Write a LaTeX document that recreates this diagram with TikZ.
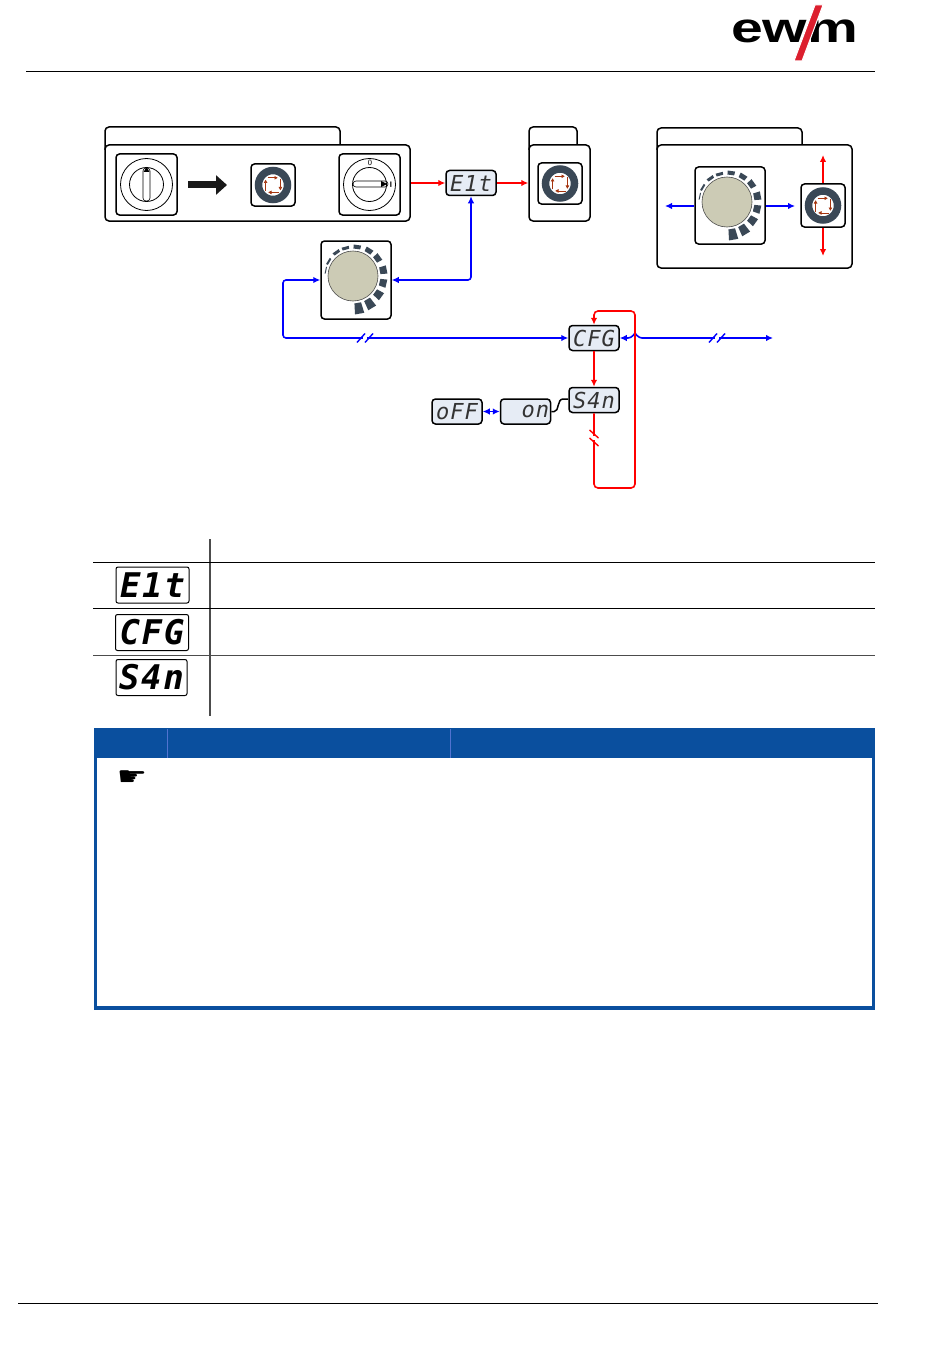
\documentclass[tikz,border=0pt]{standalone}
\usepackage{fontspec}
\usetikzlibrary{shapes,arrows,arrows.meta,positioning,calc}
\newfontfamily\segfont{DejaVu Sans Mono}
\newfontfamily\symfont{DejaVu Sans}
\newfontfamily\logofont{Liberation Sans}
\definecolor{ringgrey}{HTML}{3A4856}
\definecolor{knobgrey}{HTML}{CCCBB5}
\definecolor{rustred}{HTML}{A5350F}
\definecolor{dispblue}{HTML}{E6ECF5}
\definecolor{notblue}{HTML}{0A4F9E}
\definecolor{logored}{HTML}{DC1F2E}

\begin{document}
\begin{tikzpicture}[x = 1pt, y = 1pt, > = {Latex[length = 7pt, width = 6.5pt]}, inner sep = 0pt]
    \tikzset{
      panel/.style = {draw, rounded corners = 4pt, line width = 1.5pt, fill = white},
      keybox/.style = {panel, rounded corners = 3.5pt},
      display/.style = {keybox, fill = dispblue, minimum width = 50pt, minimum height = 25pt, text = black!80,
        font = \segfont\itshape\fontsize{22}{22}\selectfont\addfontfeature{LetterSpace = 5}},
      tabledisplay/.style = {draw, rounded corners = 2pt, line width = 1pt, minimum width = 73pt,
        minimum height = 36pt, font = \segfont\bfseries\itshape\fontsize{34}{34}\selectfont\addfontfeature{LetterSpace = 5}},
      blueline/.style = {draw = blue, line width = 1.6pt, rounded corners = 3pt},
      redline/.style = {draw = red, line width = 1.6pt, rounded corners = 4pt},
      tableline/.style = {line width = 1.1pt, draw = black!70},
      ringarrow/.style = {->, > = {Latex[length = 3.5pt, width = 4pt]}, rustred, line width = .7pt},
      dialmark/.pic = {
        \foreach \a/\t in {-80/11, -59/10, -36/8, -13/7, 11/7, 36/6, 58/5, 82/4, 105/3, 125/3, 149/2, 168/1}
          \fill[ringgrey] ({\a-7}:27.5) -- ({\a-7}:{27.5+\t}) -- ({\a+7}:{27.5+\t}) -- ({\a+7}:27.5) -- cycle;
        \draw[fill = knobgrey, line width = .6pt, draw = black!70] (0, 0) circle [radius = 25];
      },
      ringmark/.pic = {
        \draw[ringgrey, line width = 7.5pt] (0, 0) circle [radius = 14.5];
        \draw[ringarrow] (-5.5, 7.2) -- (5, 7.2);
        \draw[ringarrow] (7.4, 6) -- (7.4, -5.5);
        \draw[ringarrow] (5.5, -7.4) -- (-5, -7.4);
        \draw[ringarrow] (-7.4, -6) -- (-7.4, 5.5);
      },
      cutmark/.pic = {
        \fill[white] (-2, -5) rectangle (2, 5);
        \draw[line width = 1.4pt] (-8, -4.5) -- (0, 4.5);
        \draw[line width = 1.4pt] (0, -4.5) -- (8, 4.5);
      },
    }
    \useasboundingbox (0, 0) rectangle (950, -1359);
    \fill[white] (0, 0) rectangle (950, -1359);

    % page head and foot
    \node[font = \logofont\bfseries\fontsize{42}{42}\selectfont, xscale = 1.36, anchor = center] (logo) at (794.5, -31) {ewm};
    \fill[logored, draw = white, line width = 1pt] (815, -5) -- (823, -5) -- (802, -61) -- (794, -61) -- cycle;
    \draw[line width = .8pt] (26, -71) -- (875, -71);
    \draw[line width = .8pt] (18, -1303) -- (878, -1303);

    % first panel
    \draw[panel] (105, -150) |- (340, -127) -- (340, -150);
    \node[panel, minimum width = 305pt, minimum height = 76pt] (mainpanel) at (257.5, -183) {};
    \node[keybox, minimum width = 61pt, minimum height = 61pt] (switchoff) at (146.5, -184.5) {};
    \draw[line width = .8pt] (switchoff.center) circle [radius = 26] (switchoff.center) circle [radius = 17];
    \draw[line width = .6pt, rounded corners = 3pt] (143, -168) rectangle (150, -201);
    \fill (146.5, -167) -- (149.5, -172) -- (143.5, -172) -- cycle;
    \draw[line width = 7pt, -{Triangle[length = 11pt, width = 19pt]}, black!90] (188, -185) -- (227, -185);
    \node[keybox, minimum width = 44pt, minimum height = 42pt] (setkeya) at (273, -185) {};
    \pic at (setkeya.center) {ringmark};
    \node[keybox, minimum width = 61pt, minimum height = 61pt] (switchon) at (369.5, -184.5) {};
    \draw[line width = .8pt] (switchon.center) circle [radius = 26] (switchon.center) circle [radius = 17];
    \draw[line width = .6pt, rounded corners = 3pt] (353, -181) rectangle (388, -187);
    \fill (387, -184) -- (381, -181) -- (381, -187) -- cycle;
    \node[font = \sffamily\fontsize{8}{8}\selectfont] (zeromark) at (370, -162.5) {0};
    \node[font = \sffamily\bfseries\fontsize{8}{8}\selectfont] (onemark) at (391, -184.5) {I};

    % second panel
    \draw[panel] (529, -150) |- (577, -127) -- (577, -150);
    \node[panel, minimum width = 61pt, minimum height = 76pt] (savepanel) at (559.5, -183) {};
    \node[keybox, minimum width = 44pt, minimum height = 41pt] (setkeyb) at (560, -183.5) {};
    \pic at (setkeyb.center) {ringmark};

    % third panel
    \draw[panel] (657, -150) |- (802, -128) -- (802, -150);
    \node[panel, minimum width = 195pt, minimum height = 123pt] (helppanel) at (754.5, -206.5) {};
    \node[keybox, minimum width = 70pt, minimum height = 77pt] (dialb) at (730, -205.5) {};
    \pic at (727, -202) {dialmark};
    \node[keybox, minimum width = 44pt, minimum height = 43pt] (setkeyc) at (823, -205.5) {};
    \pic at (setkeyc.center) {ringmark};
    \coordinate (helpleft) at (665, -206);
    \coordinate (helpright) at (795, -206);
    \coordinate (helpup) at (823, -155);
    \coordinate (helpdown) at (823, -256);
    \draw[blueline, ->] (dialb.west |- helpleft) -- (helpleft);
    \draw[blueline, ->] (dialb.east |- helpright) -- (helpright);
    \draw[redline, ->] (setkeyc.north) -- (helpup);
    \draw[redline, ->] (setkeyc.south) -- (helpdown);

    % displays
    \node[display] (elt) at (471, -183) {E1t};
    \node[keybox, minimum width = 70pt, minimum height = 78pt] (diala) at (356, -280) {};
    \pic at (353, -276) {dialmark};
    \node[display] (cfg) at (594, -338) {CFG};
    \node[display] (syn) at (594, -400) {S4n};
    \node[display] (valon) at (525.5, -411.5) {\hspace{.9em}on};
    \node[display] (valoff) at (457, -411.5) {oFF};

    \draw[redline, ->] (mainpanel.east) -- (elt.west);
    \draw[redline, ->] (elt.east) -- (savepanel.west);
    \draw[blueline, <->] (diala.east) -| (elt.south);

    \coordinate (turnleft) at (283, -338);
    \coordinate (bumpa) at (631, -338);
    \coordinate (bumptop) at (635, -333);
    \coordinate (bumpb) at (639, -338);
    \coordinate (flowend) at (773, -338);
    \draw[blueline, <->] (diala.west) -| (turnleft) -- (cfg.west);
    \draw[blueline, <->] (cfg.east) -- (bumpa) .. controls (bumptop) .. (bumpb) -- (flowend);
    \pic[blue] at (365, -338) {cutmark};
    \pic[blue] at (717, -338) {cutmark};

    \coordinate (loopa) at (594, -488);
    \coordinate (loopb) at (635, -488);
    \coordinate (loopc) at (635, -311);
    \coordinate (loopd) at (594, -311);
    \draw[redline, ->] (cfg.south) -- (syn.north);
    \draw[redline, ->] (syn.south) -- (loopa) -- (loopb) -- (loopc) -- (loopd) -- (cfg.north);
    \pic[red, rotate = -90] at (594, -438) {cutmark};

    \coordinate (synin) at (568, -399);
    \draw[blueline, <->] (valoff.east) -- (valon.west);
    \draw[line width = 1.5pt] (valon.east) -- ++(3, 0) .. controls (559, -412) and (557, -399) .. (563, -399) -- (synin);

    % table
    \draw[tableline] (210, -539) -- (210, -716);
    \draw[line width = .9pt] (93, -562) -- (875, -562);
    \draw[line width = .9pt] (93, -608) -- (875, -608);
    \draw[line width = .9pt, black!70] (93, -655) -- (875, -655);
    \node[tabledisplay] (tabelt) at (152.5, -585) {E1t};
    \node[tabledisplay] (tabcfg) at (152, -632.5) {CFG};
    \node[tabledisplay, minimum width = 71pt] (tabsyn) at (151.5, -677.5) {S4n};

    % note
    \node[draw = notblue, line width = 3.5pt, minimum width = 778pt, minimum height = 278pt] (notebox) at (484.5, -869) {};
    \node[fill = notblue, minimum width = 780pt, minimum height = 29pt] (notehead) at (485, -743.5) {};
    \draw[blue!30!notblue!70!white, line width = .6pt] (167, -729) -- (167, -758);
    \draw[blue!30!notblue!70!white, line width = .6pt] (450, -729) -- (450, -758);
    \node[font = \symfont\fontsize{26}{26}\selectfont, xscale = 1.3] (notehand) at (132, -778) {☛};
  \end{tikzpicture}
\end{document}
